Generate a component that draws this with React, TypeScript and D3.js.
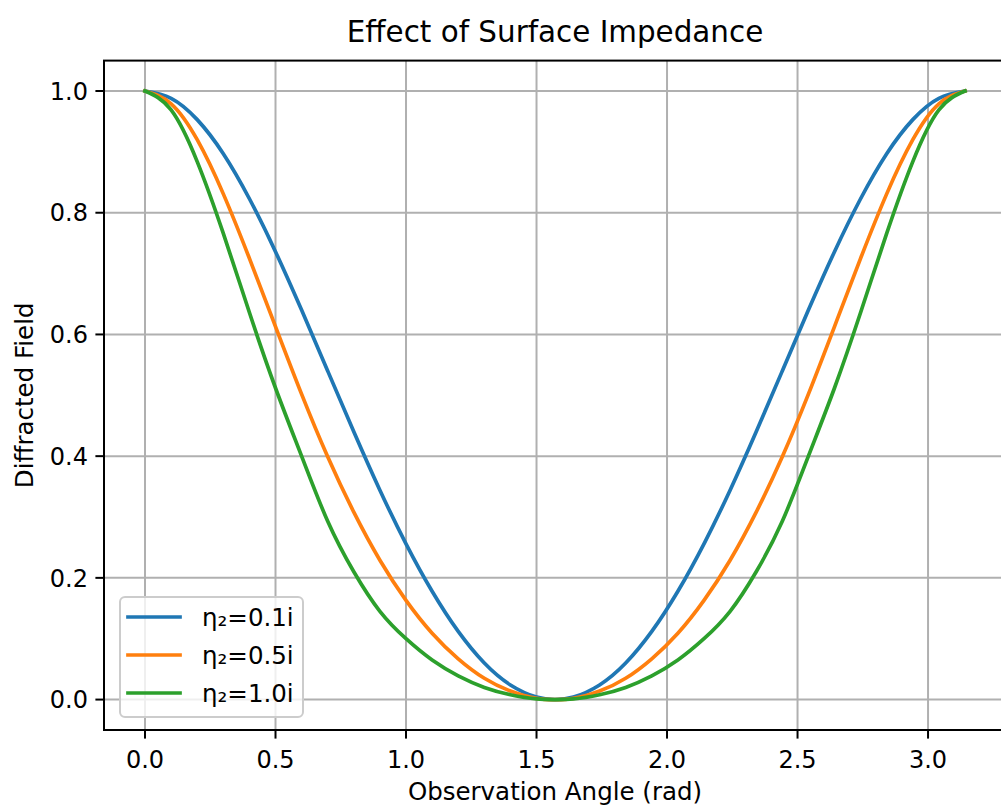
import * as d3 from "d3";

const W = 1001;
const H = 810;
const PLOT = { left: 104, right: 1006, top: 60.6, bottom: 730 };
const FONT = "DejaVu Sans, Verdana, sans-serif";

// observation angle samples (rad)
const angles = [
  0, 0.1, 0.2, 0.3, 0.4, 0.5, 0.6, 0.7, 0.8, 0.9, 1.0, 1.1, 1.2, 1.3, 1.4, 1.5,
  1.5708,
  1.6416, 1.7416, 1.8416, 1.9416, 2.0416, 2.1416, 2.2416, 2.3416, 2.4416, 2.5416,
  2.6416, 2.7416, 2.8416, 2.9416, 3.0416, 3.1416,
];

const field01 = [
  1, 0.988, 0.953, 0.897, 0.823, 0.736, 0.64, 0.54, 0.44, 0.344, 0.256, 0.178, 0.112, 0.06, 0.024, 0.004,
  0,
  0.004, 0.024, 0.06, 0.112, 0.178, 0.256, 0.344, 0.44, 0.54, 0.64, 0.736, 0.823, 0.897, 0.953, 0.988, 1,
];
const field05 = [
  1, 0.979, 0.92, 0.831, 0.725, 0.613, 0.502, 0.399, 0.308, 0.229, 0.163, 0.109, 0.067, 0.035, 0.014, 0.002,
  0,
  0.002, 0.014, 0.035, 0.067, 0.109, 0.163, 0.229, 0.308, 0.399, 0.502, 0.613, 0.725, 0.831, 0.92, 0.979, 1,
];
const field10 = [
  1, 0.969, 0.884, 0.766, 0.636, 0.512, 0.4, 0.293, 0.21, 0.145, 0.1, 0.065, 0.039, 0.02, 0.008, 0.001,
  0,
  0.001, 0.008, 0.02, 0.039, 0.065, 0.1, 0.145, 0.21, 0.293, 0.4, 0.512, 0.636, 0.766, 0.884, 0.969, 1,
];

const seriesNames = ["η₂=0.1i", "η₂=0.5i", "η₂=1.0i"];
const seriesColors = ["#1f77b4", "#ff7f0e", "#2ca02c"];
const seriesValues = [field01, field05, field10];

const xTicks = [0, 0.5, 1.0, 1.5, 2.0, 2.5, 3.0];
const yTicks = [0, 0.2, 0.4, 0.6, 0.8, 1.0];

export default function App() {
  const xScale = d3.scaleLinear().domain([-0.15708, 3.29867]).range([PLOT.left, PLOT.right]);
  const yScale = d3.scaleLinear().domain([-0.05, 1.05]).range([PLOT.bottom, PLOT.top]);
  const fmt = d3.format(".1f");

  const line = d3
    .line<[number, number]>()
    .x((d) => xScale(d[0]))
    .y((d) => yScale(d[1]))
    .curve(d3.curveNatural);

  const midX = (PLOT.left + PLOT.right) / 2;
  const midY = (PLOT.top + PLOT.bottom) / 2;

  return (
    <svg
      width={W}
      height={H}
      style={{ position: "absolute", left: 0, top: 0, background: "#fff" }}
      fontFamily={FONT}
    >
      <defs>
        <clipPath id="plotclip">
          <rect x={PLOT.left} y={PLOT.top} width={PLOT.right - PLOT.left} height={PLOT.bottom - PLOT.top} />
        </clipPath>
      </defs>

      {/* grid */}
      {xTicks.map((t) => (
        <line key={"gx" + t} x1={xScale(t)} x2={xScale(t)} y1={PLOT.top} y2={PLOT.bottom} stroke="#b0b0b0" strokeWidth={2} />
      ))}
      {yTicks.map((t) => (
        <line key={"gy" + t} x1={PLOT.left} x2={PLOT.right} y1={yScale(t)} y2={yScale(t)} stroke="#b0b0b0" strokeWidth={2} />
      ))}

      {/* curves */}
      <g clipPath="url(#plotclip)">
        {seriesValues.map((vals, i) => (
          <path
            key={i}
            d={line(angles.map((a, j) => [a, vals[j]]) as [number, number][]) ?? ""}
            fill="none"
            stroke={seriesColors[i]}
            strokeWidth={3.7}
            strokeLinejoin="round"
            strokeLinecap="square"
          />
        ))}
      </g>

      {/* spines */}
      <rect
        x={PLOT.left}
        y={PLOT.top}
        width={PLOT.right - PLOT.left}
        height={PLOT.bottom - PLOT.top}
        fill="none"
        stroke="#000"
        strokeWidth={2}
      />

      {/* x ticks */}
      {xTicks.map((t) => (
        <g key={"xt" + t}>
          <line x1={xScale(t)} x2={xScale(t)} y1={PLOT.bottom} y2={PLOT.bottom + 8.6} stroke="#000" strokeWidth={2} />
          <text x={xScale(t)} y={768} textAnchor="middle" fontSize={24} fill="#000">
            {fmt(t)}
          </text>
        </g>
      ))}

      {/* y ticks */}
      {yTicks.map((t) => (
        <g key={"yt" + t}>
          <line x1={PLOT.left - 8.6} x2={PLOT.left} y1={yScale(t)} y2={yScale(t)} stroke="#000" strokeWidth={2} />
          <text x={88} y={yScale(t) + 8.7} textAnchor="end" fontSize={24} fill="#000">
            {fmt(t)}
          </text>
        </g>
      ))}

      {/* labels */}
      <text x={midX} y={42} textAnchor="middle" fontSize={29.4} fill="#000">
        Effect of Surface Impedance
      </text>
      <text x={midX} y={800} textAnchor="middle" fontSize={24.5} fill="#000">
        Observation Angle (rad)
      </text>
      <text transform={`translate(33,${midY}) rotate(-90)`} textAnchor="middle" fontSize={24.5} fill="#000">
        Diffracted Field
      </text>

      {/* legend */}
      <g>
        <rect x={120} y={597} width={183} height={120} rx={5} ry={5} fill="#fff" fillOpacity={0.8} stroke="#cccccc" strokeWidth={2} />
        {seriesNames.map((name, i) => {
          const ly = 617 + i * 38;
          return (
            <g key={name}>
              <line x1={128} x2={180} y1={ly} y2={ly} stroke={seriesColors[i]} strokeWidth={3.7} strokeLinecap="square" />
              <text x={202} y={ly + 9} fontSize={24.5} fill="#000">
                {name}
              </text>
            </g>
          );
        })}
      </g>
    </svg>
  );
}
